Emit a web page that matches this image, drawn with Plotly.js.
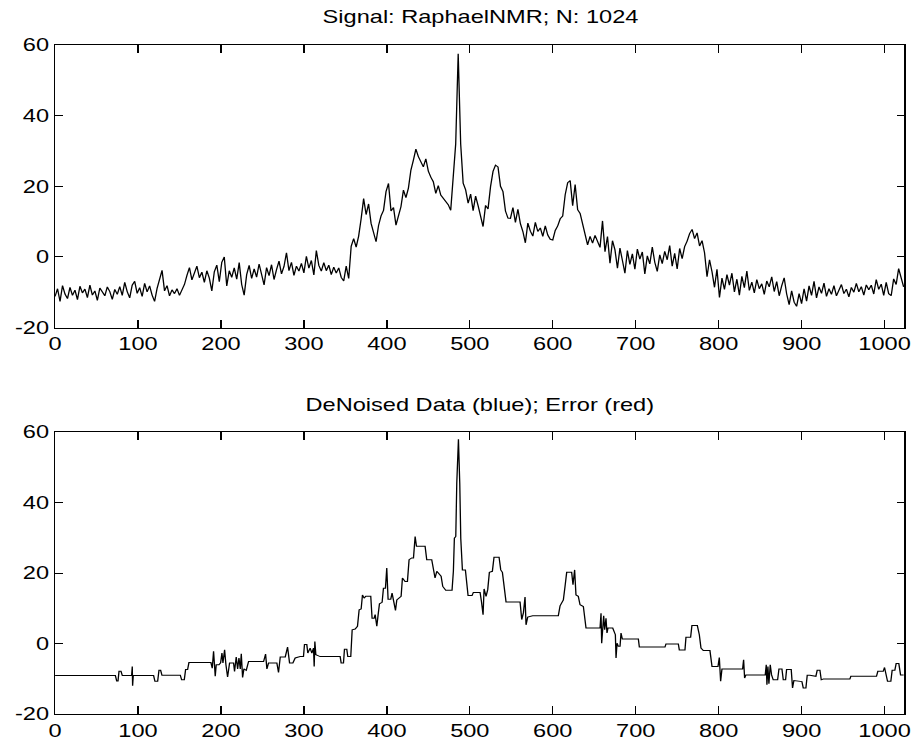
<!DOCTYPE html>
<html>
<head>
<meta charset="utf-8">
<script src="https://cdn.plot.ly/plotly-3.0.1.min.js"></script>
<style>
  html, body { margin: 0; padding: 0; background: #ffffff; overflow: hidden; }
  #plot { width: 695px; height: 744px; transform: scaleX(1.3108); transform-origin: 0 0; }
</style>
</head>
<body>
<div id="plot"></div>
<script>
// ---------------- DATA ----------------
// Noisy NMR signal, sampled every 3rd index (0, 3, 6, ..., 1023)
const signalStep = 3;
const signalValues = [
  // x 0..75
  -11.2, -9.0, -12.6, -8.1, -10.5, -11.8, -8.6, -10.9, -9.4, -12.1, -8.3, -10.2, -9.1, -11.5, -8.0, -10.8, -9.6, -12.3, -8.8, -10.0, -11.0, -8.5, -9.8, -12.0, -9.2, -10.6,
  // x 78..153
  -8.4, -10.9, -7.2, -9.8, -11.6, -8.0, -6.9, -10.3, -8.7, -11.2, -7.5, -9.9, -8.2, -10.8, -12.6, -8.9, -6.5, -3.8, -9.6, -8.1, -11.0, -9.3, -10.4, -9.0, -10.9, -9.5,
  // x 156..183
  -7.8, -5.2, -3.0, -6.5, -4.1, -2.6, -5.9, -4.3, -7.2, -3.9,
  // x 186..213
  -6.0, -9.6, -4.2, -2.3, -7.0, -1.5, 0.0, -8.2, -3.9, -5.8,
  // x 216..294
  -3.1, -6.3, -1.6, -7.8, -10.8, -5.0, -2.4, -6.1, -3.4, -5.7, -2.0, -4.5, -7.9, -3.0, -5.3, -2.2, -6.4, -3.6, -1.2, -4.8, -2.7, 1.2, -3.9, -1.5, -5.2, -2.6, -4.0,
  // x 297..354
  -1.8, -4.5, 0.2, -3.2, -1.0, -5.1, 1.8, -2.4, -4.0, -1.6, -3.9, -2.3, -5.0, -2.9, -4.6, -3.1, -5.8, -6.8, -2.6, -6.1,
  // x 357..657
  3.0, 5.2, 2.8, 5.9, 10.8, 16.5, 12.0, 15.0, 9.5, 7.2, 4.3, 8.9, 11.6, 13.2, 18.5, 20.8, 13.0, 14.0, 9.0, 11.6,
  14.2, 18.9, 16.8, 19.5, 24.6, 27.4, 30.5, 28.4, 27.0, 25.5, 27.8, 24.3, 22.6, 21.3, 18.0, 20.2, 17.5, 16.6, 15.4, 14.8,
  13.2, 21.8, 32.0, 57.5, 32.0, 20.9, 19.0, 15.2, 17.8, 13.1, 17.2, 14.5, 11.5, 8.6, 14.6, 13.6, 19.9, 24.2, 26.0, 25.5,
  20.0, 18.5, 13.0, 11.0, 10.9, 14.0, 9.8, 13.5, 9.4, 7.2, 4.0, 9.6, 7.3, 5.9, 9.8, 7.2, 8.2, 5.8, 8.8, 6.2,
  5.0, 4.8, 7.5, 8.8, 10.8, 11.6, 17.6, 21.0, 21.6, 14.5, 20.5, 13.4, 12.3, 9.5, 6.5, 3.4, 5.8, 3.9, 6.1, 4.2,
  2.7,
  // x 660..675
  10.2, 1.5, 5.8, -1.8, 4.6, 2.0,
  // x 678..759
  -3.2, 2.5, -1.0, -4.6, 1.8, -2.1, 0.9, -3.5, 2.2, -0.6, 1.4, -4.8, 0.3, -2.0, 2.8, -1.5, -4.1, 0.6, -1.9, 1.6, -0.8, 3.2, -2.6, 1.0, -3.4, 2.4, -0.5, 2.9,
  // x 762..789
  4.5, 6.6, 7.8, 5.2, 6.8, 3.1, 4.6, 1.2, -5.6, -0.8,
  // x 792..1023
  -4.2, -8.6, -3.5, -11.5, -6.0, -9.2, -5.0, -8.0, -4.6, -9.9, -6.3, -10.8, -5.5, -8.7, -4.0, -9.5, -7.1, -10.2, -6.4, -9.0,
  -7.6, -10.6, -6.8, -8.5, -5.6, -9.8, -7.0, -11.0, -8.2, -5.9, -10.5, -13.5, -9.6, -12.8, -14.0, -10.4, -13.2, -9.0, -12.5, -8.2,
  -10.9, -6.9, -11.6, -8.5, -10.3, -7.4, -11.2, -9.0, -10.6, -8.1, -11.0, -9.5, -7.8, -10.4, -9.1, -11.3, -8.6, -10.0, -7.5, -9.9,
  -8.4, -10.8, -7.9, -9.3, -8.0, -10.5, -6.4, -9.2, -7.7, -10.9, -7.2, -10.4, -11.0, -6.2, -7.8, -3.3, -5.6, -8.5
];
const signalX = signalValues.map((v, i) => i * signalStep);

// Denoised (piecewise-constant) signal: breakpoints
const denoisedX = [
  0, 72.7, 74.3, 75.9, 77.1, 79.5, 81.1, 92.3, 93.1, 93.5, 94.3, 118.8, 120.4, 123.7, 125.3, 127.3, 128.9, 151.0, 152.6, 155.8,
  157.4, 159.8, 161.4, 187.9, 189.5, 191.1, 193.1, 194.3, 197.6, 199.6, 201.2, 202.4, 204.4, 206.0, 208.0, 210.4, 215.2, 216.4, 218.4, 220.1,
  221.7, 223.3, 224.5, 226.1, 227.7, 230.5, 233.3, 251.4, 253.8, 255.4, 257.4, 267.4, 269.4, 271.5, 277.5, 280.3, 282.7, 286.7, 289.5, 295.5,
  299.5, 300.7, 303.5, 304.7, 307.5, 309.6, 311.6, 312.4, 313.2, 314.4, 319.6, 343.7, 344.9, 347.7, 348.9, 351.7, 352.9, 356.5, 358.2, 361.8,
  364.6, 366.6, 369.0, 370.6, 372.6, 374.6, 380.6, 382.2, 384.7, 385.9, 387.9, 389.5, 391.1, 394.3, 395.9, 398.3, 399.9, 401.5, 404.7, 406.3,
  408.8, 410.4, 412.0, 414.8, 417.2, 418.8, 422.0, 424.8, 426.8, 430.0, 432.1, 434.1, 435.7, 446.1, 448.1, 454.1, 456.1, 458.1, 460.2, 463.4,
  465.4, 467.4, 471.0, 478.6, 480.2, 481.4, 483.1, 484.3, 486.3, 487.9, 489.1, 491.1, 494.7, 497.9, 502.7, 504.3, 512.4, 514.0, 516.0, 517.2,
  519.6, 521.6, 523.6, 527.2, 529.2, 535.3, 537.3, 539.3, 543.7, 560.6, 562.6, 564.6, 566.6, 567.8, 569.8, 575.8, 606.7, 608.8, 612.8, 614.8,
  616.8, 622.8, 624.4, 626.4, 628.0, 630.8, 632.9, 636.9, 638.1, 640.1, 657.0, 658.2, 659.0, 660.2, 661.4, 662.6, 664.2, 665.4, 666.6, 672.3,
  673.9, 675.5, 676.3, 677.5, 679.1, 681.1, 682.3, 683.9, 703.2, 704.4, 735.3, 736.5, 751.4, 752.6, 759.4, 760.6, 766.2, 767.8, 774.3, 776.7,
  778.7, 781.5, 789.5, 792.0, 799.2, 800.8, 802.4, 804.0, 828.9, 830.1, 831.3, 832.9, 856.2, 857.4, 858.2, 859.4, 860.6, 862.2, 863.8, 865.8,
  871.1, 872.7, 876.3, 877.9, 880.7, 881.9, 887.5, 889.1, 890.7, 898.0, 900.4, 902.0, 905.2, 906.8, 910.0, 917.2, 918.8, 922.1, 923.7, 926.1,
  958.2, 959.4, 990.3, 991.9, 998.4, 1000.0, 1001.6, 1003.6, 1007.6, 1009.2, 1012.4, 1014.0, 1017.2, 1019.3, 1023
];
const denoisedY = [
  -9.1, -9.1, -10.6, -10.6, -7.9, -7.9, -9.1, -9.1, -6.5, -12.0, -9.1, -9.1, -10.7, -10.7, -7.6, -7.6, -9.0, -9.0, -10.3, -10.3,
  -7.4, -7.4, -5.4, -5.4, -7.0, -2.2, -9.3, -6.0, -6.0, -5.5, -2.7, -5.5, -1.8, -6.0, -9.5, -5.5, -5.5, -7.9, -3.8, -7.2,
  -4.1, -7.2, -2.9, -9.6, -7.2, -7.6, -5.1, -5.1, -3.0, -7.2, -5.5, -5.5, -8.2, -3.8, -3.8, -1.0, -5.5, -5.5, -4.1, -3.7,
  -3.7, -0.3, -0.3, -2.7, -1.3, -2.7, -1.3, -6.5, 0.6, -3.2, -3.7, -3.7, -5.5, -5.5, -1.6, -1.6, -3.7, -3.7, 3.9, 4.1,
  4.9, 9.6, 9.8, 13.8, 12.9, 13.4, 13.4, 7.2, 7.2, 8.2, 4.9, 8.2, 11.3, 11.7, 15.7, 15.7, 21.4, 12.6, 12.6, 14.3,
  11.5, 9.4, 12.4, 12.9, 13.4, 18.6, 17.6, 17.6, 23.8, 24.3, 24.3, 30.4, 27.6, 27.6, 23.8, 23.8, 20.9, 18.6, 20.5, 19.5,
  19.1, 16.2, 15.1, 15.1, 20.5, 29.9, 30.4, 45.5, 58.0, 45.5, 29.9, 20.9, 20.9, 13.6, 13.6, 14.5, 14.5, 12.0, 8.2, 15.5,
  13.4, 15.3, 20.2, 20.5, 24.5, 24.5, 20.9, 20.2, 11.8, 11.8, 6.8, 8.7, 13.2, 5.3, 7.5, 7.9, 7.9, 10.7, 12.4, 16.2,
  20.2, 20.2, 16.7, 20.9, 13.8, 13.4, 11.0, 10.5, 8.6, 4.4, 4.4, 8.6, 0.1, 4.4, 7.9, 3.9, 7.2, 3.0, 4.4, 4.4,
  3.0, 2.5, -4.1, 0.1, -0.8, -0.8, 3.0, 1.3, 1.3, -1.0, -1.0, -0.1, -0.1, -1.8, -1.8, 1.8, 1.8, 5.1, 5.1, 2.5,
  -1.3, -2.0, -2.0, -6.5, -6.5, -4.0, -10.7, -7.2, -7.2, -4.6, -9.8, -8.9, -8.9, -6.0, -11.7, -6.5, -11.4, -6.0, -8.9, -10.3,
  -10.3, -7.2, -7.2, -10.3, -10.3, -7.4, -7.4, -12.6, -10.5, -10.8, -10.8, -12.6, -12.6, -9.0, -9.0, -9.3, -7.6, -7.6, -10.3, -10.1,
  -10.1, -9.3, -9.3, -7.9, -7.9, -6.8, -8.4, -10.7, -10.7, -7.6, -7.6, -5.7, -5.7, -8.9, -8.9
];

const xTicks = [0, 100, 200, 300, 400, 500, 600, 700, 800, 900, 1000];
const yTicks = [-20, 0, 20, 40, 60];
const topTitle = 'Signal: RaphaelNMR; N: 1024';
const bottomTitle = 'DeNoised Data (blue); Error (red)';

// ---------------- PLOT ----------------
const font = { family: '"Liberation Sans", Arial, sans-serif', size: 18, color: '#000000' };

const traces = [
  { x: signalX, y: signalValues, type: 'scatter', mode: 'lines',
    line: { color: '#000000', width: 1 }, xaxis: 'x', yaxis: 'y', hoverinfo: 'skip' },
  { x: denoisedX, y: denoisedY, type: 'scatter', mode: 'lines',
    line: { color: '#000000', width: 1 }, xaxis: 'x2', yaxis: 'y2', hoverinfo: 'skip' }
];

function xAxis(anchor) {
  return {
    anchor: anchor, domain: [0, 1], range: [0, 1024], tickvals: xTicks,
    ticktext: xTicks.map(String),
    ticks: 'inside', ticklen: 8, tickwidth: 1, tickcolor: '#000000',
    showline: true, linecolor: '#000000', linewidth: 1, mirror: 'ticks',
    showgrid: false, zeroline: false, tickfont: font
  };
}
function yAxis(anchor, domain) {
  return {
    anchor: anchor, domain: domain, range: [-20, 60], tickvals: yTicks,
    ticktext: yTicks.map(String),
    ticks: 'inside', ticklen: 6, tickwidth: 1, tickcolor: '#000000',
    showline: true, linecolor: '#000000', linewidth: 1, mirror: 'ticks',
    showgrid: false, zeroline: false, tickfont: font
  };
}

const topDomain = [0.5776, 1];
const bottomDomain = [0, 0.4213];

const layout = {
  width: 695, height: 744,
  margin: { l: 42, r: 5, t: 45, b: 30 },
  paper_bgcolor: '#ffffff', plot_bgcolor: '#ffffff',
  showlegend: false,
  font: font,
  xaxis: xAxis('y'),
  yaxis: yAxis('x', topDomain),
  xaxis2: xAxis('y2'),
  yaxis2: yAxis('x2', bottomDomain),
  annotations: [
    { text: topTitle, xref: 'paper', yref: 'paper', x: 0.5, y: topDomain[1],
      xanchor: 'center', yanchor: 'middle', yshift: 28, showarrow: false, font: font },
    { text: bottomTitle, xref: 'paper', yref: 'paper', x: 0.5, y: bottomDomain[1],
      xanchor: 'center', yanchor: 'middle', yshift: 27, showarrow: false, font: font }
  ]
};

Plotly.newPlot('plot', traces, layout, { staticPlot: true, displayModeBar: false });
</script>
</body>
</html>
